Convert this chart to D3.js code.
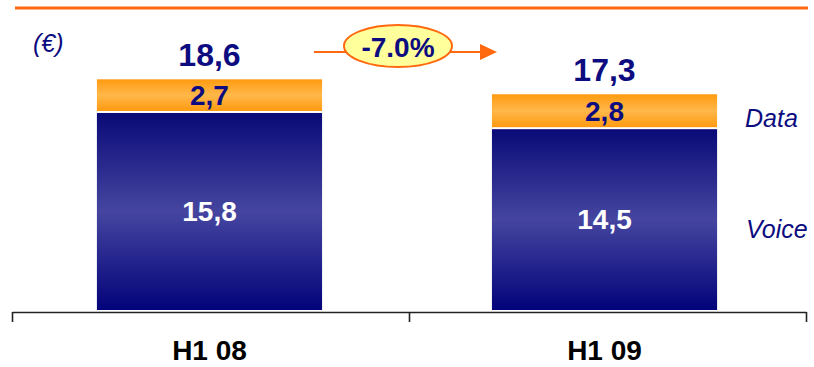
<!DOCTYPE html>
<html>
<head>
<meta charset="utf-8">
<script src="https://cdn.jsdelivr.net/npm/d3@7"></script>
<style>
  body { margin: 0; background: #fff; }
  text { font-family: "Liberation Sans", Arial, sans-serif; }
</style>
</head>
<body>
<script>
const width = 814, height = 367;

// data
const periods = ["H1 08", "H1 09"];
const voice = [15.8, 14.5];
const data = [2.7, 2.8];
const totals = ["18,6", "17,3"];
const voiceLabels = ["15,8", "14,5"];
const dataLabels = ["2,7", "2,8"];
const growth = "-7.0%";

const navy = "#0c0c80";

const svg = d3.select("body").append("svg")
  .attr("width", width).attr("height", height);

const defs = svg.append("defs");
const gOrange = defs.append("linearGradient").attr("id", "gOrange")
  .attr("x1", 0).attr("y1", 0).attr("x2", 0).attr("y2", 1);
gOrange.append("stop").attr("offset", "0%").attr("stop-color", "#ff9a10");
gOrange.append("stop").attr("offset", "50%").attr("stop-color", "#ffb84a");
gOrange.append("stop").attr("offset", "100%").attr("stop-color", "#ff9a10");
const gNavy = defs.append("linearGradient").attr("id", "gNavy")
  .attr("x1", 0).attr("y1", 0).attr("x2", 0).attr("y2", 1);
gNavy.append("stop").attr("offset", "0%").attr("stop-color", "#0a0a78");
gNavy.append("stop").attr("offset", "50%").attr("stop-color", "#4545a0");
gNavy.append("stop").attr("offset", "100%").attr("stop-color", "#03037a");

// top rule
svg.append("line").attr("x1", 15).attr("x2", 808).attr("y1", 8).attr("y2", 8)
  .attr("stroke", "#ff6a10").attr("stroke-width", 3);

const x = d3.scaleBand().domain(periods).range([10, 804])
  .paddingInner(0.43).paddingOuter(0.22);
const y = d3.scaleLinear().domain([0, 20]).range([310, 310 - 12.47 * 20]);

const rows = periods.map((p, i) => ({p, voice: voice[i], data: data[i], i}));

// voice segments
svg.selectAll(".voice").data(rows).enter().append("rect")
  .attr("x", d => x(d.p)).attr("width", x.bandwidth())
  .attr("y", d => y(d.voice)).attr("height", d => y(0) - y(d.voice))
  .attr("fill", "url(#gNavy)");

// data segments (small white gap above voice)
svg.selectAll(".data").data(rows).enter().append("rect")
  .attr("x", d => x(d.p)).attr("width", x.bandwidth())
  .attr("y", d => y(d.voice + d.data))
  .attr("height", d => y(d.voice) - y(d.voice + d.data) - 2)
  .attr("fill", "url(#gOrange)");

// segment labels
svg.selectAll(".vl").data(rows).enter().append("text")
  .attr("x", d => x(d.p) + x.bandwidth() / 2)
  .attr("y", d => (y(0) + y(d.voice)) / 2).attr("dy", "0.35em")
  .attr("text-anchor", "middle").attr("font-size", 28).attr("font-weight", "bold")
  .attr("fill", "#fff").text(d => voiceLabels[d.i]);

svg.selectAll(".dl").data(rows).enter().append("text")
  .attr("x", d => x(d.p) + x.bandwidth() / 2)
  .attr("y", d => (y(d.voice) + y(d.voice + d.data)) / 2 - 1).attr("dy", "0.35em")
  .attr("text-anchor", "middle").attr("font-size", 28).attr("font-weight", "bold")
  .attr("fill", navy).text(d => dataLabels[d.i]);

svg.selectAll(".tl").data(rows).enter().append("text")
  .attr("x", d => x(d.p) + x.bandwidth() / 2)
  .attr("y", d => y(d.voice + d.data) - 13)
  .attr("text-anchor", "middle").attr("font-size", 32).attr("font-weight", "bold")
  .attr("fill", navy).text(d => totals[d.i]);

// axis with ticks at category boundaries
const xEdge = d3.scaleLinear().domain([0, 2]).range([12, 806]);
const axis = svg.append("g").attr("transform", "translate(0,312)")
  .call(d3.axisBottom(xEdge).tickValues([0, 1, 2]).tickFormat("").tickSize(10).tickSizeOuter(0));
axis.select(".domain").attr("stroke", "#222").attr("stroke-width", 1.6);
axis.selectAll(".tick line").attr("stroke", "#222").attr("stroke-width", 1.6);

svg.selectAll(".cat").data(periods).enter().append("text")
  .attr("x", d => x(d) + x.bandwidth() / 2).attr("y", 360)
  .attr("text-anchor", "middle").attr("font-size", 28).attr("font-weight", "bold")
  .attr("fill", "#000").text(d => d);

// unit and legend
svg.append("text").attr("x", 33).attr("y", 52).attr("font-size", 25)
  .attr("font-style", "italic").attr("fill", navy).text("(€)");
svg.append("text").attr("x", 745).attr("y", 127).attr("font-size", 25)
  .attr("font-style", "italic").attr("fill", navy).text("Data");
svg.append("text").attr("x", 746).attr("y", 238).attr("font-size", 25)
  .attr("font-style", "italic").attr("fill", navy).text("Voice");

// growth arrow
const ag = svg.append("g");
ag.append("line").attr("x1", 314).attr("x2", 482).attr("y1", 52).attr("y2", 52)
  .attr("stroke", "#ff6a10").attr("stroke-width", 2);
ag.append("path").attr("d", "M480,44 L497,52 L480,60 Z").attr("fill", "#ff6a10");
ag.append("ellipse").attr("cx", 398).attr("cy", 46).attr("rx", 54).attr("ry", 21)
  .attr("fill", "#ffff9c").attr("stroke", "#ff6a10").attr("stroke-width", 2);
ag.append("text").attr("x", 398).attr("y", 57).attr("text-anchor", "middle")
  .attr("font-size", 28).attr("font-weight", "bold").attr("fill", navy).text(growth);
</script>
</body>
</html>
